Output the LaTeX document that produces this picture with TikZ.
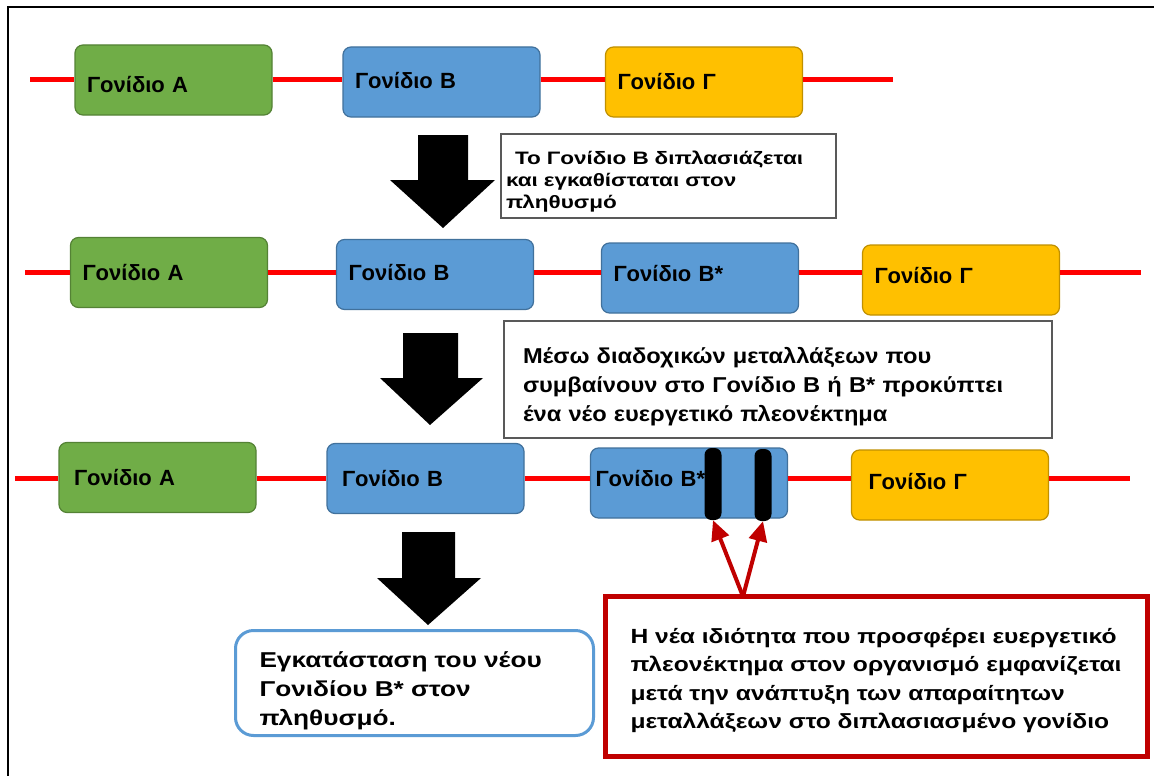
\documentclass[tikz,border=0pt]{standalone}
\usepackage{fontspec}
\setmainfont{Liberation Sans}
\newfontfamily\stA[FakeStretch=1.25]{Liberation Sans}
\newfontfamily\stB[FakeStretch=1.1]{Liberation Sans}
\newfontfamily\stC[FakeStretch=1.2]{Liberation Sans}
\newfontfamily\stD[FakeStretch=1.22]{Liberation Sans}
\newcommand\mylift[1]{\rule{0pt}{#1}}
\newcommand\myraise[1]{\rule[-#1]{0pt}{#1}}
\usetikzlibrary{arrows.meta,calc}
\definecolor{gA}{HTML}{70AD47}
\definecolor{gAd}{HTML}{548235}
\definecolor{gB}{HTML}{5B9BD5}
\definecolor{gBd}{HTML}{41719C}
\definecolor{gC}{HTML}{FFC000}
\definecolor{gCd}{HTML}{C09000}
\definecolor{chrom}{HTML}{FF0000}
\definecolor{dred}{HTML}{C00000}
\definecolor{boxgray}{HTML}{595959}
\begin{document}
\begin{tikzpicture}[x=1pt,y=-1pt,
  gene/.style={rectangle, rounded corners=8pt, line width=1.2pt, minimum height=70pt,
    text width=173pt, inner xsep=12pt, inner ysep=0pt, align=left,
    font=\fontsize{22}{26}\selectfont\bfseries},
  geneA/.style={gene, fill=gA, draw=gAd},
  geneB/.style={gene, fill=gB, draw=gBd},
  geneC/.style={gene, fill=gC, draw=gCd},
  chromo/.style={draw=chrom, line width=5pt},
  blockarrow/.style={fill=black},
  note/.style={rectangle, draw=boxgray, line width=2pt, fill=white, align=left, inner ysep=0pt},
  bar/.style={fill=black, rounded corners=7pt, minimum width=17pt, minimum height=72pt, inner sep=0pt},
  mut/.style={draw=dred, line width=4pt, -{Triangle[length=20pt,width=18pt]}},
]
\useasboundingbox (0,0) rectangle (1154,776);
\fill[white] (0,0) rectangle (1154,776);
\draw[line width=2.5pt] (8,776) -- (8,7) -- (1154,7);

% ---------- Row 1 ----------
\coordinate (r1s) at (30,80);
\coordinate (r1e) at (893,80);
\node[geneA] (a1) at (173.5,80) {\mylift{26pt}Γονίδιο Α};
\node[geneB] (b1) at (441.5,82) {\myraise{4pt}Γονίδιο Β};
\node[geneC] (c1) at (704,82) {Γονίδιο Γ};
\draw[chromo] (r1s) -- (r1s -| a1.west);
\draw[chromo] (a1.east |- r1s) -- (b1.west |- r1s);
\draw[chromo] (b1.east |- r1s) -- (c1.west |- r1s);
\draw[chromo] (c1.east |- r1s) -- (r1e);

% arrow 1 and note 1
\fill[blockarrow] (418,135) -- (468,135) -- (468,180) -- (495,180) -- (443,228) -- (390,180) -- (418,180) -- cycle;
\node[note, anchor=north west, minimum width=335pt, minimum height=84pt, text width=325pt, inner xsep=5pt,
  font=\fontsize{18}{22}\stA\bfseries] (n1) at (500,133)
  {\mbox{\mylift{24pt}\hspace*{9pt}Το Γονίδιο Β διπλασιάζεται}\\\mbox{και εγκαθίσταται στον}\\\mbox{πληθυσμό}};

% ---------- Row 2 ----------
\coordinate (r2s) at (25,272);
\coordinate (r2e) at (1141,272);
\node[geneA] (a2) at (169,272.5) {Γονίδιο Α};
\node[geneB] (b2) at (435,274.5) {\myraise{5pt}Γονίδιο Β};
\node[geneB] (bs2) at (700,278) {\myraise{10pt}Γονίδιο Β*};
\node[geneC] (c2) at (961,280) {\myraise{10pt}Γονίδιο Γ};
\draw[chromo] (r2s) -- (r2s -| a2.west);
\draw[chromo] (a2.east |- r2s) -- (b2.west |- r2s);
\draw[chromo] (b2.east |- r2s) -- (bs2.west |- r2s);
\draw[chromo] (bs2.east |- r2s) -- (c2.west |- r2s);
\draw[chromo] (c2.east |- r2s) -- (r2e);

% arrow 2 and note 2
\fill[blockarrow] (403,333) -- (458,333) -- (458,378) -- (483,378) -- (430,425) -- (380,378) -- (403,378) -- cycle;
\node[note, anchor=north west, minimum width=548pt, minimum height=117pt, text width=510pt, inner xsep=19pt,
  font=\fontsize{21.5}{29}\stB\bfseries] (n2) at (503,320)
  {\mbox{\mylift{31pt}Μέσω διαδοχικών μεταλλάξεων που}\\\mbox{συμβαίνουν στο Γονίδιο Β ή Β* προκύπτει}\\\mbox{ένα νέο ευεργετικό πλεονέκτημα}};

% ---------- Row 3 ----------
\coordinate (r3s) at (15,478);
\coordinate (r3e) at (1130,478);
\node[geneA, inner xsep=15pt, text width=167pt] (a3) at (157.5,477.5) {Γονίδιο Α};
\node[geneB, inner xsep=15pt, text width=167pt] (b3) at (425.5,478.5) {Γονίδιο Β};
\node[geneB, inner xsep=5pt, text width=187pt] (bs3) at (689,483) {\myraise{10pt}Γονίδιο Β*};
\node[geneC, inner xsep=17pt, text width=163pt] (c3) at (950,485) {\myraise{8pt}Γονίδιο Γ};
\draw[chromo] (r3s) -- (r3s -| a3.west);
\draw[chromo] (a3.east |- r3s) -- (b3.west |- r3s);
\draw[chromo] (b3.east |- r3s) -- (bs3.west |- r3s);
\draw[chromo] (bs3.east |- r3s) -- (c3.west |- r3s);
\draw[chromo] (c3.east |- r3s) -- (r3e);
\node[bar] (m1) at (713,484) {};
\node[bar] (m2) at (763,485) {};

% arrow 3 and final note
\fill[blockarrow] (402,532) -- (455,532) -- (455,578) -- (481,578) -- (428,625) -- (377,578) -- (402,578) -- cycle;
\node[rectangle, rounded corners=18pt, draw=gB, line width=3pt, fill=white, anchor=north west,
  minimum width=358pt, minimum height=105pt, text width=310pt, inner xsep=24pt, inner ysep=0pt, align=left,
  font=\fontsize{21.5}{29}\stD\bfseries] (n4) at (234,629)
  {\mbox{\mylift{32pt}Εγκατάσταση του νέου}\\\mbox{Γονιδίου Β* στον}\\\mbox{πληθυσμό.}};

% red note and mutation arrows
\node[rectangle, draw=dred, line width=5pt, fill=white, anchor=north west,
  minimum width=542pt, minimum height=160pt, text width=492pt, inner xsep=25pt, inner ysep=0pt, align=left,
  font=\fontsize{20.5}{28.5}\stC\bfseries] (n3) at (603,594)
  {\mbox{\mylift{23pt}Η νέα ιδιότητα που προσφέρει ευεργετικό}\\\mbox{πλεονέκτημα στον οργανισμό εμφανίζεται}\\\mbox{μετά την ανάπτυξη των απαραίτητων}\\\mbox{μεταλλάξεων στο διπλασιασμένο γονίδιο}};
\coordinate (apex) at ($(n3.north west)+(140,2.5)$);
\draw[mut] (apex) -- (m1.south);
\draw[mut] (apex) -- (m2.south);
\end{tikzpicture}
\end{document}
